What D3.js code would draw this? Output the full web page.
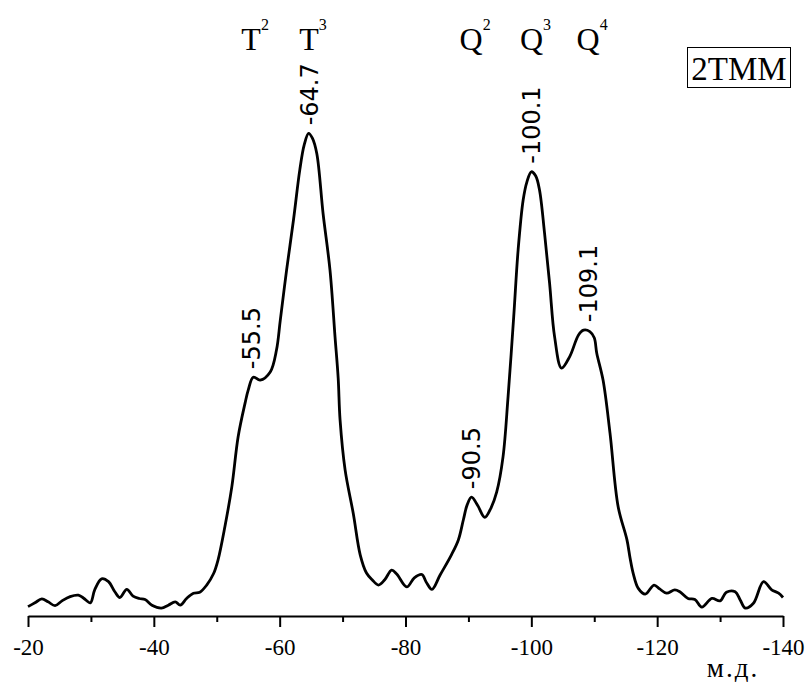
<!DOCTYPE html>
<html>
<head>
<meta charset="utf-8">
<script src="https://cdn.jsdelivr.net/npm/d3@7"></script>
<style>
    body { margin: 0; background: #fff; }
    svg { display: block; }
</style>
</head>
<body>
<svg></svg>
<script>
// химический сдвиг, м.д.
let shift = [-20.0, -21.1, -22.2, -23.2, -24.3, -25.4, -26.7, -28.0, -28.8, -29.9,
    -30.6, -31.7, -32.8, -33.8, -34.6, -35.7, -36.7, -37.7, -38.6, -39.7,
    -41.2, -42.3, -43.4, -44.2, -45.2, -46.3, -47.3, -48.4, -49.5, -50.2,
    -51.3, -52.4, -53.4, -54.5, -55.0, -55.8, -56.9, -58.5, -59.5, -60.1,
    -61.1, -62.2, -63.2, -63.9, -64.6, -65.2, -65.9, -66.9, -68.0, -68.8,
    -69.3, -69.6, -70.4, -71.7, -72.8, -73.8, -74.7, -75.7, -76.7, -77.8,
    -78.6, -80.2, -81.4, -82.6, -83.3, -84.2, -85.5, -87.3, -88.4, -89.2,
    -89.8, -90.5, -91.5, -92.6, -93.6, -94.5, -95.5, -96.3, -97.2, -97.9,
    -98.7, -99.3, -100.0, -100.7, -101.3, -102.1, -102.9, -103.7, -104.8, -106.1,
    -107.5, -108.3, -109.3, -110.0, -110.4, -111.4, -112.5, -113.8, -115.2, -115.7,
    -116.2, -117.0, -118.1, -119.5, -120.4, -121.5, -122.8, -123.6, -124.9, -126.0,
    -127.1, -128.7, -130.0, -131.0, -132.4, -133.2, -134.0, -135.3, -136.9, -138.2,
    -139.3, -140.0];

// интенсивность (отн. ед.)
let intensity = [0.7, 1.5, 2.3, 1.7, 0.9, 1.9, 2.8, 3.1, 2.5, 1.5,
    4.2, 6.5, 5.9, 3.8, 2.6, 4.3, 2.9, 2.4, 2.2, 1.0,
    0.4, 1.0, 1.7, 1.0, 2.4, 3.5, 3.7, 5.2, 7.6, 10.4,
    17.4, 25.7, 36.1, 43.1, 45.8, 48.5, 47.9, 49.6, 54.2, 60.4,
    70.8, 81.3, 91.7, 96.9, 99.3, 98.3, 95.1, 82.6, 70.8, 56.9,
    48.3, 39.6, 29.2, 20.1, 11.5, 7.7, 6.3, 5.2, 6.3, 8.3,
    7.5, 4.8, 6.7, 7.4, 5.8, 4.3, 7.3, 11.5, 14.6, 18.8,
    21.9, 23.5, 21.7, 19.3, 21.3, 24.6, 31.9, 44.4, 61.1, 75.0,
    85.4, 89.2, 91.3, 90.4, 87.5, 78.5, 68.1, 56.9, 50.4, 52.8,
    57.3, 58.3, 58.0, 56.7, 53.5, 47.9, 36.9, 21.5, 14.6, 10.8,
    7.6, 4.5, 3.3, 5.2, 4.4, 3.5, 4.2, 3.8, 2.4, 2.2,
    0.6, 2.4, 1.9, 3.7, 3.8, 2.1, 0.4, 1.4, 5.9, 4.2,
    3.5, 2.6];

// подписи пиков
let peakShift = [-55.5, -64.7, -90.5, -100.1, -109.1];
let peakIntensity = [48.5, 99.3, 23.5, 91.3, 58.3];
let peakText = ["-55.5", "-64.7", "-90.5", "-100.1", "-109.1"];

// структурные единицы
let unitShift = [-55.5, -64.7, -90.5, -100.1, -109.1];
let unitLetter = ["T", "T", "Q", "Q", "Q"];
let unitIndex = ["2", "3", "2", "3", "4"];

let majorTicks = [-20, -40, -60, -80, -100, -120, -140];
let minorTicks = [-30, -50, -70, -90, -110, -130];
let sampleName = "2TMM";
let axisTitle = "м.д.";

let serif = "'Liberation Serif', 'Times New Roman', serif";

let width = 808;
let height = 682;

let svg = d3.select("svg")
    .attr("width", width)
    .attr("height", height);

let data = shift.map((s, i) => ({'x': s, 'f': intensity[i]}));

let scaleX = d3.scaleLinear()
    .domain([-20, -140])
    .range([28, 783]);

let scaleY = d3.scaleLinear()
    .domain([0, 100])
    .range([610, 130]);

let axisY0 = 616;

// малые деления
svg.append("g")
    .attr("transform", `translate(0, ${axisY0})`)
    .call(d3.axisBottom(scaleX).tickValues(minorTicks).tickSize(6).tickSizeOuter(0).tickFormat(""))
    .call(g => g.select(".domain").remove())
    .selectAll("line").attr("stroke", "#000").attr("stroke-width", 2);

// основная ось
let gx = svg.append("g")
    .attr("transform", `translate(0, ${axisY0})`)
    .call(d3.axisBottom(scaleX)
        .tickValues(majorTicks)
        .tickSize(11)
        .tickSizeOuter(0)
        .tickPadding(12)
        .tickFormat(d => String(d)));
gx.attr("font-family", serif).attr("font-size", 23);
gx.select(".domain").attr("stroke", "#000").attr("stroke-width", 2);
gx.selectAll("line").attr("stroke", "#000").attr("stroke-width", 2);
gx.selectAll("text")
    .attr("fill", "#000")
    .attr("font-family", serif)
    .attr("font-size", 23);

svg.append("text")
    .attr("x", 733)
    .attr("y", 677)
    .attr("text-anchor", "middle")
    .attr("font-family", serif)
    .attr("font-size", 27)
    .attr("letter-spacing", 2)
    .text(axisTitle);

// спектр
let lineF = d3.line()
    .x(d => scaleX(d.x))
    .y(d => scaleY(d.f))
    .curve(d3.curveCatmullRom.alpha(0.5));

svg.append("path")
    .datum(data)
    .attr("d", lineF)
    .attr("fill", "none")
    .attr("stroke", "#000")
    .attr("stroke-width", 2.8)
    .attr("stroke-linejoin", "round");

// значения пиков (вертикально)
peakShift.forEach((s, i) => {
    let px = scaleX(s);
    let py = scaleY(peakIntensity[i]) - 8;
    svg.append("text")
        .attr("transform", `translate(${px}, ${py}) rotate(-90)`)
        .attr("dy", "0.35em")
        .attr("font-family", "'DejaVu Sans', sans-serif")
        .attr("font-size", 24)
        .text(peakText[i]);
});

// T2, T3, Q2, Q3, Q4
unitShift.forEach((s, i) => {
    let t = svg.append("text")
        .attr("x", scaleX(s) - (unitLetter[i] === "Q" ? 12 : 10))
        .attr("y", 50)
        .attr("font-family", serif)
        .attr("font-size", 32)
        .text(unitLetter[i]);
    t.append("tspan")
        .attr("dy", -20)
        .attr("font-size", 16)
        .text(unitIndex[i]);
});

// подпись образца в рамке
svg.append("rect")
    .attr("x", 687.5)
    .attr("y", 47.5)
    .attr("width", 103)
    .attr("height", 40)
    .attr("fill", "none")
    .attr("stroke", "#000")
    .attr("stroke-width", 1);

svg.append("text")
    .attr("x", 739)
    .attr("y", 80)
    .attr("text-anchor", "middle")
    .attr("font-family", serif)
    .attr("font-size", 33)
    .text(sampleName);
</script>
</body>
</html>
